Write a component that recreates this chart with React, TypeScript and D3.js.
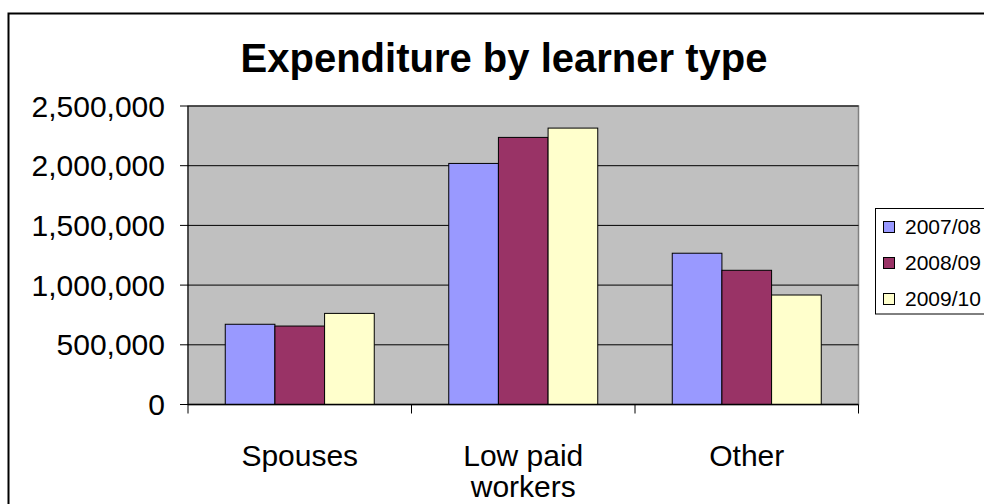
import React from "react";
import * as d3 from "d3";

const categories = ["Spouses", "Low paid workers", "Other"];
const categoryLines = [["Spouses"], ["Low paid", "workers"], ["Other"]];
const seriesNames = ["2007/08", "2008/09", "2009/10"];
const seriesColors = ["#9999FF", "#993366", "#FFFFCC"];
const values2007 = [672000, 2019000, 1267000];
const values2008 = [657000, 2237000, 1124000];
const values2009 = [763000, 2315000, 917000];
const yTicks = [0, 500000, 1000000, 1500000, 2000000, 2500000];
const title = "Expenditure by learner type";

export default function App() {
  const W = 984, H = 504;
  const plotL = 188, plotR = 858.5, plotT = 106, plotB = 404.5;
  const series = [values2007, values2008, values2009];

  const x0 = d3.scaleBand<string>().domain(categories).range([plotL, plotR]).padding(0);
  const x1 = d3
    .scaleBand<string>()
    .domain(seriesNames)
    .range([0, x0.bandwidth()])
    .paddingInner(0)
    .paddingOuter(0.75);
  const y = d3.scaleLinear().domain([0, 2500000]).range([plotB, plotT]);
  const fmt = d3.format(",");
  const font = "'Liberation Sans', Arial, sans-serif";

  const catEdges = [...categories.map((c) => x0(c)!), plotR];

  return (
    <svg
      width={W}
      height={H}
      style={{ position: "absolute", left: 0, top: 0, background: "#fff" }}
      fontFamily={font}
    >
      <rect x={0} y={0} width={W} height={H} fill="#fff" />
      <rect x={8.5} y={13.5} width={1100} height={700} fill="#fff" stroke="#000" strokeWidth={2} />
      <text x={504} y={72.3} textAnchor="middle" fontSize={40} fontWeight="bold" fill="#000">
        {title}
      </text>

      {/* plot area */}
      <rect x={plotL} y={plotT} width={plotR - plotL} height={plotB - plotT} fill="#C0C0C0" stroke="#808080" strokeWidth={1.5} />
      {yTicks.map((t) => (
        <g key={t}>
          {t > 0 && (
            <line x1={plotL} x2={plotR} y1={y(t)} y2={y(t)} stroke="#000" strokeWidth={1} />
          )}
          <line x1={180} x2={plotL} y1={y(t)} y2={y(t)} stroke="#000" strokeWidth={1} />
          <text x={165} y={y(t)} dy="0.35em" textAnchor="end" fontSize={30} fill="#000">
            {fmt(t)}
          </text>
        </g>
      ))}

      {/* bars */}
      {categories.map((c, ci) => (
        <g key={c} transform={`translate(${x0(c)},0)`}>
          {seriesNames.map((s, si) => {
            const v = series[si][ci];
            return (
              <rect
                key={s}
                x={x1(s)}
                y={y(v)}
                width={x1.bandwidth()}
                height={plotB - y(v)}
                fill={seriesColors[si]}
                stroke="#000"
                strokeWidth={1}
              />
            );
          })}
        </g>
      ))}

      {/* axes */}
      <line x1={plotL} x2={plotL} y1={plotT} y2={plotB} stroke="#000" strokeWidth={1} />
      <line x1={plotL} x2={plotR} y1={plotB} y2={plotB} stroke="#000" strokeWidth={1.5} />
      {catEdges.map((e, i) => (
        <line key={i} x1={e} x2={e} y1={plotB} y2={plotB + 9} stroke="#000" strokeWidth={1} />
      ))}
      {categories.map((c, ci) => (
        <text key={c} x={x0(c)! + x0.bandwidth() / 2} y={466} textAnchor="middle" fontSize={30} fill="#000">
          {categoryLines[ci].map((ln, li) => (
            <tspan key={li} x={x0(c)! + x0.bandwidth() / 2} dy={li === 0 ? 0 : 31}>
              {ln}
            </tspan>
          ))}
        </text>
      ))}

      {/* legend */}
      <rect x={875.5} y={208.5} width={200} height={105.5} fill="#fff" stroke="#000" strokeWidth={1} />
      {seriesNames.map((s, si) => {
        const cy = 227 + si * 36;
        return (
          <g key={s}>
            <rect x={883.5} y={cy - 5.5} width={11} height={11} fill={seriesColors[si]} stroke="#000" strokeWidth={1} />
            <text x={905} y={cy} dy="0.35em" fontSize={21} fill="#000">
              {s}
            </text>
          </g>
        );
      })}
    </svg>
  );
}
